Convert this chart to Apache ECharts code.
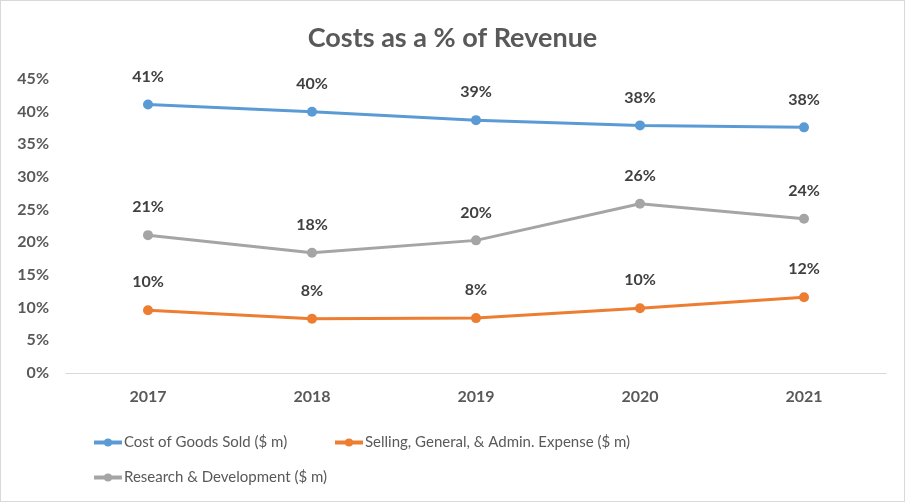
<!DOCTYPE html>
<html><head><meta charset="utf-8">
<script src="https://cdn.jsdelivr.net/npm/echarts@6/dist/echarts.min.js"></script>
<style>html,body{margin:0;padding:0;background:#fff}#c{width:903px;height:500px;border:1px solid #d9d9d9}</style>
</head><body><div id="c"></div>
<script>
const categories = ['2017','2018','2019','2020','2021'];
const cogs = [41.1, 40.0, 38.7, 37.9, 37.6];
const sga = [9.6, 8.3, 8.4, 9.9, 11.6];
const rnd = [21.1, 18.4, 20.3, 25.9, 23.6];
const seriesNames = ['Cost of Goods Sold ($ m)', 'Selling, General, & Admin. Expense ($ m)', 'Research & Development ($ m)'];
const colors = ['#5b9bd5', '#ed7d31', '#a5a5a5'];
const FONT = 'Lato, "Open Sans", sans-serif';
const chart = echarts.init(document.getElementById('c'));
function mk(name, data, color) {
  return {
    name, type: 'line', data, color,
    symbol: 'circle', symbolSize: 10,
    lineStyle: { width: 3, color },
    itemStyle: { color },
    label: { show: true, position: 'top', distance: 15, formatter: p => Math.round(p.value) + '%',
      color: '#404040', fontWeight: 'bold', fontSize: 16, fontFamily: FONT },
    emphasis: { disabled: true }, animation: false
  };
}
function lg(name, left, top) {
  return { data: [name], left, top, itemWidth: 28, itemHeight: 10, itemGap: 2,
    lineStyle: { width: 4 },
    textStyle: { color: '#595959', fontSize: 15, fontFamily: FONT, padding: [0, 0, 0, -3] } };
}
chart.setOption({
  animation: false,
  title: { text: 'Costs as a % of Revenue', left: 'center', top: 19,
    textStyle: { color: '#595959', fontSize: 27, fontWeight: 'bold', fontFamily: FONT } },
  grid: { left: 65, right: 18, top: 78, bottom: 128, containLabel: false },
  legend: [
    lg(seriesNames[0], 86, 429),
    lg(seriesNames[1], 327, 429),
    lg(seriesNames[2], 86, 464)
  ],
  xAxis: { type: 'category', data: categories, boundaryGap: true,
    axisLine: { lineStyle: { color: '#d9d9d9', width: 1 } }, axisTick: { show: false },
    axisLabel: { color: '#595959', fontWeight: 'bold', fontSize: 16, fontFamily: FONT, margin: 16 } },
  yAxis: { type: 'value', min: 0, max: 45, interval: 5,
    axisLine: { show: false }, axisTick: { show: false }, splitLine: { show: false },
    axisLabel: { formatter: '{value}%', color: '#595959', fontWeight: 'bold', fontSize: 16, fontFamily: FONT, margin: 17 } },
  series: [mk(seriesNames[0], cogs, colors[0]), mk(seriesNames[1], sga, colors[1]), mk(seriesNames[2], rnd, colors[2])]
});
</script></body></html>
